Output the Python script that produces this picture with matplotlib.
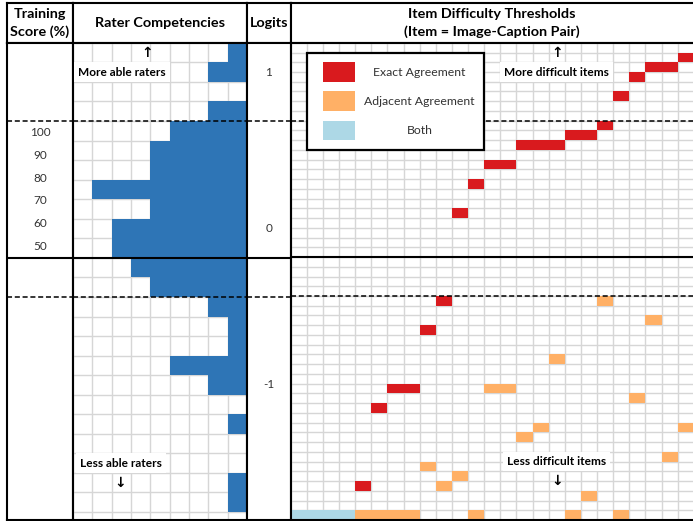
import matplotlib
matplotlib.use('Agg')
import matplotlib.pyplot as plt
from matplotlib.patches import Rectangle

plt.rcParams['font.family'] = ['Lato', 'DejaVu Sans']

# ---------------- data ----------------
# number of raters in each rater row (each rater row = 0.125 logit), top to bottom
rater_counts = [1, 2, 0, 2, 4, 5, 5, 8, 5, 7, 7, 6, 5, 2, 1, 1, 4, 2, 0, 1, 0, 0, 1, 1, 0]
score_labels = ['100', '90', '80', '70', '60', '50']
logit_labels = ['1', '0', '-1']
logit_rater_rows = [1, 9, 17]

# item thresholds: row (0.0625 logit each, from top), first column, number of columns
exact_rows = [1, 2, 3, 5, 8, 9, 10, 12, 14, 17, 26, 29, 35, 37, 45]
exact_cols = [24, 22, 21, 20, 19, 17, 14, 12, 11, 10, 9, 8, 6, 5, 4]
exact_lens = [1, 2, 1, 1, 1, 2, 3, 2, 1, 1, 1, 1, 2, 1, 1]

adj_rows = [26, 28, 32, 35, 36, 39, 39, 40, 42, 43, 44, 45, 46, 48, 48, 48, 48]
adj_cols = [19, 22, 16, 12, 21, 15, 24, 14, 23, 8, 10, 9, 18, 4, 11, 17, 20]
adj_lens = [1, 1, 1, 2, 1, 1, 1, 1, 1, 1, 1, 1, 1, 4, 1, 1, 1]

both_rows = [48]
both_cols = [0]
both_lens = [4]

legend_labels = ['Exact Agreement', 'Adjacent Agreement', 'Both']

# ---------------- style ----------------
BLUE = '#2E75B6'
RED = '#D91A1E'
ORANGE = '#FFB066'
LBLUE = '#ADD8E6'
GRID = '#D6D6D6'
TXT = '#333333'

W, H = 693, 521
fig = plt.figure(figsize=(W / 100, H / 100), dpi=100)
fig.patch.set_facecolor('white')

X_LEFT, X_SCORE, X_RATER, X_LOGIT = 7, 73, 247, 290.6
COL_ITEM = 16.13
N_ITEM_COLS = 25
X_RIGHT = X_LOGIT + N_ITEM_COLS * COL_ITEM
Y_TOP, Y_HEAD, Y_BOT = 3, 42.8, 520
ROW_PX = 9.775
N_ROWS_VIS = (Y_BOT - Y_HEAD) / ROW_PX
N_RATER_COLS = 9


def px_axes(x0, y0, x1, y1):
    return fig.add_axes([x0 / W, 1 - y1 / H, (x1 - x0) / W, (y1 - y0) / H])


def frame(ax, right=True):
    ax.set_xticks([])
    ax.set_yticks([])
    for s in ax.spines.values():
        s.set_color('black')
        s.set_linewidth(1.5)
    if not right:
        ax.spines['right'].set_visible(False)


# ---------------- headers ----------------
hdr_font = dict(fontsize=10.4, fontweight='bold', color='black', ha='center', va='center')
h1 = px_axes(X_LEFT, Y_TOP, X_SCORE, Y_HEAD); frame(h1)
h1.text(0.5, 0.5, 'Training\nScore (%)', transform=h1.transAxes, linespacing=1.45, **hdr_font)
h2 = px_axes(X_SCORE, Y_TOP, X_RATER, Y_HEAD); frame(h2)
h2.text(0.5, 0.5, 'Rater Competencies', transform=h2.transAxes, **hdr_font)
h3 = px_axes(X_RATER, Y_TOP, X_LOGIT, Y_HEAD); frame(h3)
h3.text(0.5, 0.5, 'Logits', transform=h3.transAxes, **hdr_font)
h4 = px_axes(X_LOGIT, Y_TOP, X_RIGHT, Y_HEAD); frame(h4, right=False)
h4.text(0.5, 0.5, 'Item Difficulty Thresholds\n(Item = Image-Caption Pair)', transform=h4.transAxes,
        linespacing=1.45, **hdr_font)


def rules(ax):
    ax.axhline(8, color='black', lw=1.1, ls=(0, (3.3, 1.8)), zorder=5)
    ax.axhline(26, color='black', lw=1.1, ls=(0, (3.3, 1.8)), zorder=5)
    ax.axhline(22, color='black', lw=1.5, zorder=5)


# ---------------- training score column ----------------
a1 = px_axes(X_LEFT, Y_HEAD, X_SCORE, Y_BOT)
a1.set_xlim(0, 1); a1.set_ylim(N_ROWS_VIS, 0)
frame(a1)
n = len(score_labels)
for i, lab in enumerate(score_labels):
    a1.text(0.5, 8 + (22 - 8) / n * (i + 0.5), lab, ha='center', va='center', fontsize=8.5, color=TXT)
rules(a1)

# ---------------- rater column ----------------
a2 = px_axes(X_SCORE, Y_HEAD, X_RATER, Y_BOT)
a2.set_xlim(N_RATER_COLS, 0); a2.set_ylim(N_ROWS_VIS, 0)
frame(a2)
a2.set_xticks(range(N_RATER_COLS + 1))
a2.set_yticks(range(0, 50, 2))
a2.tick_params(length=0, labelbottom=False, labelleft=False)
a2.grid(True, color=GRID, lw=1.0)
a2.set_axisbelow(True)
a2.barh([2 * k + 1 for k in range(len(rater_counts))], rater_counts, height=2, left=0,
        color=BLUE, linewidth=0, zorder=2)
lab_font = dict(fontsize=8.6, fontweight='bold', color='black', va='center')
arr_font = dict(fontsize=10, fontweight='bold', color='black', va='center', family='DejaVu Sans')
box = dict(boxstyle='square,pad=0.35', fc='white', ec='none')
a2.text(0.425, 1, '↑', transform=a2.get_yaxis_transform(), ha='center', zorder=3, **arr_font)
a2.text(0.028, 3, 'More able raters', transform=a2.get_yaxis_transform(), ha='left', bbox=box,
        zorder=3, **lab_font)
a2.text(0.04, 43, 'Less able raters', transform=a2.get_yaxis_transform(), ha='left', bbox=box,
        zorder=3, **lab_font)
a2.text(0.27, 45, '↓', transform=a2.get_yaxis_transform(), ha='center', zorder=3, **arr_font)
rules(a2)

# ---------------- logits column ----------------
a3 = px_axes(X_RATER, Y_HEAD, X_LOGIT, Y_BOT)
a3.set_xlim(0, 1); a3.set_ylim(N_ROWS_VIS, 0)
frame(a3)
for lab, r in zip(logit_labels, logit_rater_rows):
    a3.text(0.5, 2 * r + 1, lab, ha='center', va='center', fontsize=8.5, color=TXT)
rules(a3)

# ---------------- item column ----------------
a4 = px_axes(X_LOGIT, Y_HEAD, X_RIGHT, Y_BOT)
a4.set_xlim(0, N_ITEM_COLS); a4.set_ylim(N_ROWS_VIS, 0)
frame(a4, right=False)
a4.set_xticks(range(N_ITEM_COLS + 1))
a4.set_yticks(range(0, 50))
a4.tick_params(length=0, labelbottom=False, labelleft=False)
a4.grid(True, color=GRID, lw=1.0)
a4.set_axisbelow(True)
for rows, cols, lens, c in [(exact_rows, exact_cols, exact_lens, RED),
                            (adj_rows, adj_cols, adj_lens, ORANGE),
                            (both_rows, both_cols, both_lens, LBLUE)]:
    a4.barh([r + 0.5 for r in rows], lens, left=cols, height=1, color=c, linewidth=0, zorder=2)
rules(a4)

a4.text(16.5, 1, '↑', ha='center', zorder=3, **arr_font)
a4.text(16.5, 3, 'More difficult items', ha='center', bbox=box, zorder=3, **lab_font)
a4.text(16.5, 43, 'Less difficult items', ha='center', bbox=box, zorder=3, **lab_font)
a4.text(16.5, 45, '↓', ha='center', zorder=3, **arr_font)

# legend box (columns 1-12, rows 1-11)
a4.add_patch(Rectangle((1, 1), 11, 10, fc='white', ec='black', lw=1.6, zorder=6))
for i, (lab, c) in enumerate(zip(legend_labels, [RED, ORANGE, LBLUE])):
    y0 = 2 + 3 * i
    a4.add_patch(Rectangle((2, y0), 2, 2, fc=c, ec='none', zorder=7))
    a4.text(8.0, y0 + 1, lab, ha='center', va='center', fontsize=8.8, color=TXT, zorder=7)

fig.savefig('out.png', dpi=100, facecolor='white')
